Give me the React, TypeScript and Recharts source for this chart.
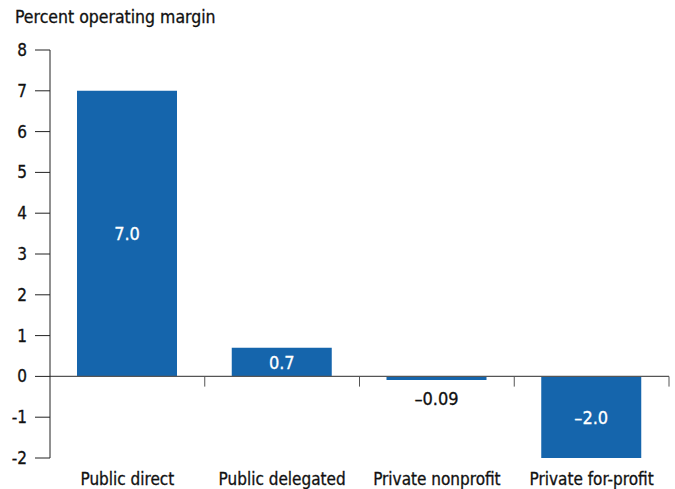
import { BarChart, Bar, XAxis, YAxis, ReferenceLine, LabelList } from "recharts";

const categories = ["Public direct", "Public delegated", "Private nonprofit", "Private for-profit"];
const margins = [7.0, 0.7, -0.09, -2.0];
const valueLabels = ["7.0", "0.7", "\u20130.09", "\u20132.0"];
const yTicks = [-2, -1, 0, 1, 2, 3, 4, 5, 6, 7, 8];

const data = categories.map((name, i) => ({ name, value: margins[i], label: valueLabels[i] }));

const FONT = "'Liberation Sans Narrow', 'Arial Narrow', 'DejaVu Sans Condensed', sans-serif";
const BLUE = "#1565ac";

const BarLabel = (props: any) => {
    const { x, y, width, height, index } = props;
    const text = valueLabels[index];
    const small = Math.abs(height) < 18;
    const cx = x + width / 2;
    const cy = small ? Math.max(y, y + height) + 18 : y + height / 2;
    return (
        <text
            x={cx}
            y={cy}
            textAnchor="middle"
            dominantBaseline="central"
            fill={small ? "#111" : "#fff"}
            fontSize={18}
            fontFamily={FONT}
            stroke={small ? "#111" : "#fff"}
            strokeWidth={0.3}
        >
            {text}
        </text>
    );
};

const tickStyle = { fill: "#111", fontSize: 17, fontFamily: FONT, stroke: "#111", strokeWidth: 0.3 };

export default function App() {
    return (
        <div style={{ position: "absolute", left: 0, top: 0, width: 675, height: 489, background: "#fff" }}>
            <div
                style={{
                    position: "absolute",
                    left: 15,
                    top: 7,
                    fontFamily: FONT,
                    fontSize: 17.5,
                    color: "#111",
                    WebkitTextStroke: "0.3px #111",
                }}
            >
                Percent operating margin
            </div>
            <BarChart
                width={675}
                height={489}
                data={data}
                margin={{ top: 50, right: 6, left: 0, bottom: 0 }}
            >
                <YAxis
                    type="number"
                    domain={[-2, 8]}
                    ticks={yTicks}
                    width={50}
                    tickSize={15}
                    tickMargin={8}
                    tick={tickStyle}
                    axisLine={{ stroke: "#222" }}
                    tickLine={{ stroke: "#222" }}
                    interval={0}
                />
                <XAxis
                    dataKey="name"
                    height={31}
                    axisLine={false}
                    tickLine={false}
                    tickSize={0}
                    tickMargin={15}
                    tick={tickStyle}
                    interval={0}
                />
                <ReferenceLine y={0} stroke="#555" strokeWidth={1.2} />
                {[1, 2, 3].map((i) => (
                    <ReferenceLine
                        key={i}
                        position="start"
                        stroke="#555"
                        segment={[
                            { x: categories[i], y: 0 },
                            { x: categories[i], y: -0.25 },
                        ]}
                    />
                ))}
                <ReferenceLine
                    position="end"
                    stroke="#555"
                    segment={[
                        { x: categories[3], y: 0 },
                        { x: categories[3], y: -0.25 },
                    ]}
                />
                <Bar dataKey="value" fill={BLUE} barSize={100} isAnimationActive={false}>
                    <LabelList dataKey="label" content={BarLabel} />
                </Bar>
            </BarChart>
        </div>
    );
}
